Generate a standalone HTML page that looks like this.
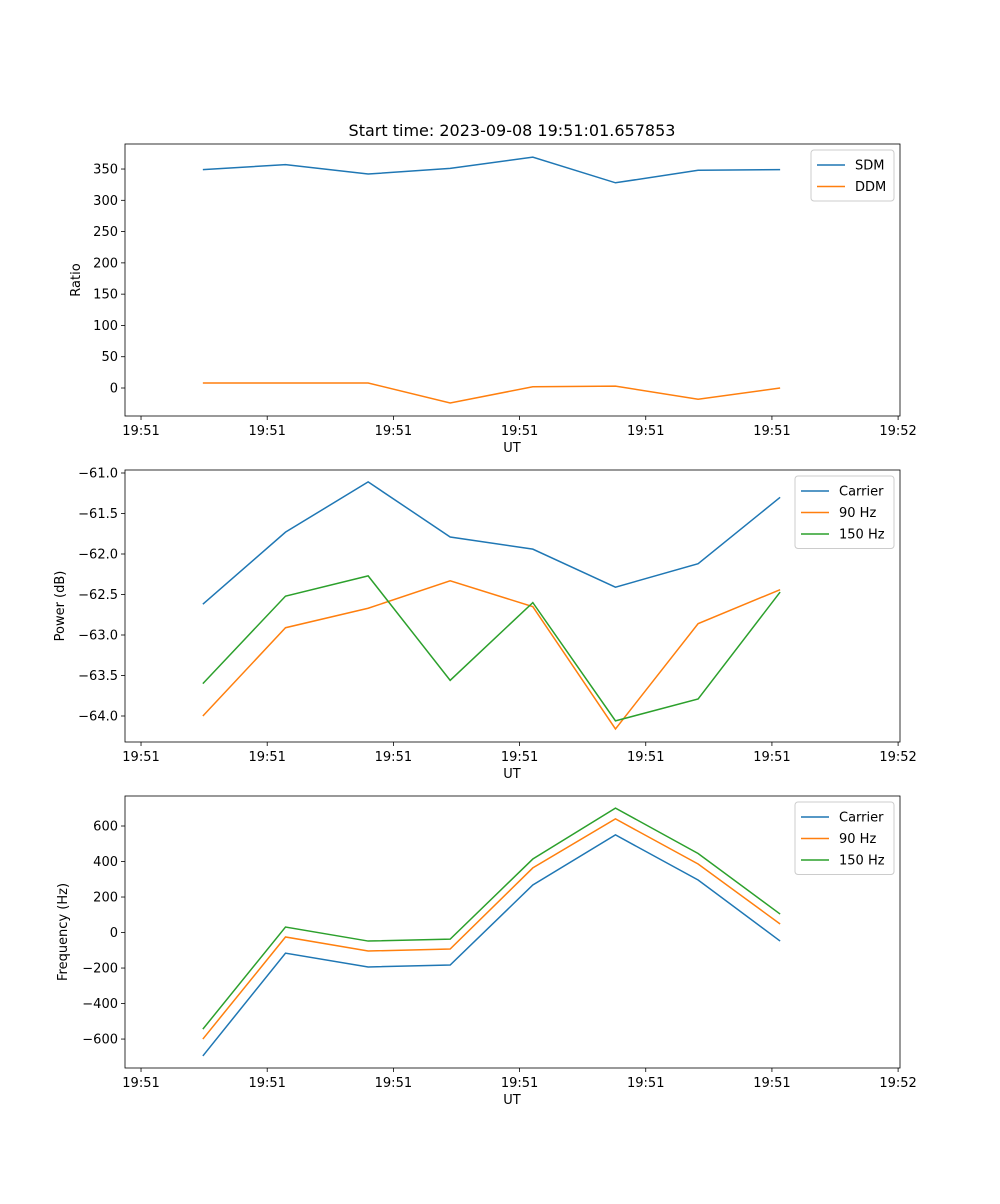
<!DOCTYPE html>
<html><head><meta charset="utf-8"><style>
body{margin:0;background:#fff;font-family:"DejaVu Sans","Liberation Sans",sans-serif}
svg text{font-family:"DejaVu Sans","Liberation Sans",sans-serif;fill:#000}
</style></head><body>
<svg id="fig" width="1000" height="1200" viewBox="0 0 1000 1200">
<rect width="1000" height="1200" fill="#fff"/>
<text x="512" y="136" font-size="16" text-anchor="middle">Start time: 2023-09-08 19:51:01.657853</text>
</svg>
<script>
const times=[1.698,1.829,1.960,2.090,2.221,2.352,2.483,2.613];
const xTicks=[1.6,1.8,2.0,2.2,2.4,2.6,2.8];
const xTickLabels=["19:51","19:51","19:51","19:51","19:51","19:51","19:52"];
const sdm=[349,357,342,351,369,328,348,349];
const ddm=[8,8,8,-24,2,3,-18,0];
const pCarrier=[-62.62,-61.73,-61.11,-61.79,-61.94,-62.41,-62.12,-61.30];
const p90=[-64.0,-62.91,-62.67,-62.33,-62.65,-64.16,-62.86,-62.44];
const p150=[-63.60,-62.52,-62.27,-63.56,-62.60,-64.06,-63.79,-62.47];
const fCarrier=[-695,-116,-194,-183,268,550,296,-48];
const f90=[-600,-25,-104,-93,364,640,386,48];
const f150=[-544,31,-48,-37,414,701,445,104];
const ticks1=[0,50,100,150,200,250,300,350];
const ticks2=[-64.0,-63.5,-63.0,-62.5,-62.0,-61.5,-61.0];
const ticks3=[-600,-400,-200,0,200,400,600];

const NS="http://www.w3.org/2000/svg";
const svg=document.getElementById('fig');
const C={b:"#1f77b4",o:"#ff7f0e",g:"#2ca02c"};
function mk(tag,attrs){const e=document.createElementNS(NS,tag);for(const k in attrs)e.setAttribute(k,attrs[k]);svg.appendChild(e);return e;}
const L=125,R=900,X0=1.5746,X1=2.803;
function xs(t){return L+(t-X0)/(X1-X0)*(R-L);}
function panel(p){
  const ys=v=>p.bot-(v-p.y0)/(p.y1-p.y0)*(p.bot-p.top);
  p.ticks.forEach((v,i)=>{const y=ys(v);
    const t=mk('line',{x1:L-4,x2:L,y1:y,y2:y,stroke:'#000','stroke-width':0.8});
    
    
    const tx=mk('text',{x:L-7,y:y+4.5,'font-size':13,'text-anchor':'end'});tx.textContent=p.fmt(v);
    
    });
  xTicks.forEach((v,i)=>{const x=xs(v);
    const t=mk('line',{x1:x,x2:x,y1:p.bot,y2:p.bot+4,stroke:'#000','stroke-width':0.8});
    
    
    const tx=mk('text',{x:x,y:p.bot+19,'font-size':13,'text-anchor':'middle'});tx.textContent=xTickLabels[i];
    
    });
  const xl=mk('text',{x:512,y:p.bot+36,'font-size':13,'text-anchor':'middle'});xl.textContent='UT';
  
  
  const cy=(p.top+p.bot)/2;
  const yl=mk('text',{x:0,y:0,'font-size':13,'text-anchor':'middle',transform:`translate(${p.ylx},${cy}) rotate(-90)`});yl.textContent=p.ylabel;
  
  
  p.series.forEach(s=>{
    const pl=mk('polyline',{points:s.v.map((v,i)=>xs(times[i])+','+ys(v)).join(' '),fill:'none',stroke:s.c,'stroke-width':1.5});
    
    });
  const fr=mk('rect',{x:L,y:p.top,width:R-L,height:p.bot-p.top,fill:'none',stroke:'#000','stroke-width':0.8});
  
  
  const lw=p.legW,lx=R-6-lw,ly=p.top+6,lh=8+p.series.length*21.5;
  const lg=mk('rect',{x:lx,y:ly,width:lw,height:lh,fill:'#fff',stroke:'#ccc','stroke-width':1,rx:3});
  
  
  p.series.forEach((s,i)=>{const yy=ly+15+i*21.5;
    const ln=mk('line',{x1:lx+6,x2:lx+34,y1:yy,y2:yy,stroke:s.c,'stroke-width':1.5});
    
    
    const t=mk('text',{x:lx+44,y:yy+4.5,'font-size':13});t.textContent=s.name;
    
    });
}
panel({id:'ratio',top:144,bot:416,y0:-44.75,y1:390,ticks:ticks1,fmt:v=>String(v),ylabel:'Ratio',ylx:80,legW:83,
  series:[{key:'sdm',name:'SDM',v:sdm,c:C.b},{key:'ddm',name:'DDM',v:ddm,c:C.o}]});
panel({id:'power',top:470,bot:742,y0:-64.321,y1:-60.963,ticks:ticks2,fmt:v=>'\u2212'+Math.abs(v).toFixed(1),ylabel:'Power (dB)',ylx:64,legW:99,
  series:[{key:'carrier',name:'Carrier',v:pCarrier,c:C.b},{key:'90hz',name:'90 Hz',v:p90,c:C.o},{key:'150hz',name:'150 Hz',v:p150,c:C.g}]});
panel({id:'frequency',top:796,bot:1068,y0:-763,y1:769,ticks:ticks3,fmt:v=>v<0?'\u2212'+Math.abs(v):String(v),ylabel:'Frequency (Hz)',ylx:67,legW:99,
  series:[{key:'carrier',name:'Carrier',v:fCarrier,c:C.b},{key:'90hz',name:'90 Hz',v:f90,c:C.o},{key:'150hz',name:'150 Hz',v:f150,c:C.g}]});
</script>
</body></html>
